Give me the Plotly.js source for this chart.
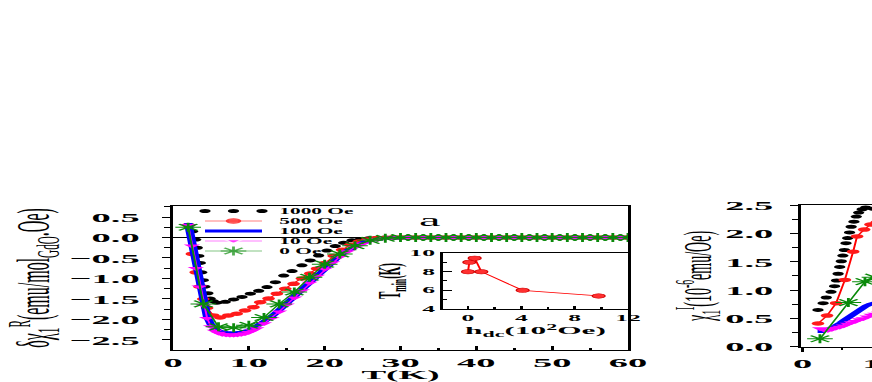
<!DOCTYPE html>
<html>
<head>
<meta charset="utf-8">
<script src="https://cdn.plot.ly/plotly-3.0.1.min.js"></script>
<style>
  html, body { margin: 0; padding: 0; background: #fff; overflow: hidden; width: 872px; height: 382px; }
  /* the original figure is stretched sideways, so the whole plot is drawn narrow and widened */
  #wrap { width: 370px; height: 382px; transform: scaleX(2.85); transform-origin: 0 0; background: #fff; }
</style>
</head>
<body>
<div id="wrap"><div id="chart" style="width:370px;height:382px;"></div></div>
<script>
// ---- panel a : delta chi_1^R vs T ----
const legendNames = ['1000 Oe', '500 Oe', '100 Oe', '10 Oe', '0 Oe'];

// shared flat part (all curves sit on zero above ~30 K)
const tFlat = [30, 31, 32, 33, 34, 35, 36, 37, 38, 39, 40, 41, 42, 43, 44, 45, 46, 47, 48, 49, 50,
               51, 52, 53, 54, 55, 56, 57, 58, 59, 60];
const vFlat = [0, 0, 0, 0, 0, 0, 0, 0, 0, 0, 0, 0, 0, 0, 0, 0, 0, 0, 0, 0, 0,
               0, 0, 0, 0, 0, 0, 0, 0, 0, 0];

const tBlackL = [2.2, 2.6, 3.0, 3.2, 3.4, 3.6, 3.8, 4.0, 4.2, 4.6, 4.9, 5.3, 5.8,
                 6.9, 8.0, 9.1, 10.2, 11.3, 12.4, 13.5, 14.6, 15.7, 17.0, 18.1, 19.2, 20.3,
                 21.4, 22.5, 23.6, 24.7, 25.8, 26.9, 28.0, 29.1];
const vBlackL = [0.3, 0.15, -0.05, -0.25, -0.45, -0.62, -0.85, -1.04, -1.2, -1.36, -1.49, -1.55, -1.59,
                 -1.57, -1.51, -1.45, -1.37, -1.3, -1.21, -1.09, -0.93, -0.82, -0.68, -0.56, -0.44, -0.32,
                 -0.21, -0.13, -0.07, -0.04, -0.02, -0.01, 0, 0];

const tRedL = [2.0, 2.5, 3.0, 3.5, 4.0, 4.5, 5.3, 6.2, 7.3, 8.4, 9.5, 10.6, 11.5, 12.6,
               13.7, 14.8, 15.9, 17.0, 18.1, 19.0, 20.1, 21.2, 22.3, 23.4, 24.5, 25.6, 26.7, 27.8, 28.9];
const vRedL = [0.3, -0.4, -0.85, -1.2, -1.5, -1.72, -1.9, -1.95, -1.9, -1.86, -1.78, -1.7, -1.58, -1.49,
               -1.37, -1.25, -1.13, -1.0, -0.88, -0.76, -0.62, -0.45, -0.3, -0.18, -0.1, -0.05, -0.02, -0.01, 0];

const tBlueL = [2, 2.5, 3, 3.5, 4, 4.5, 5, 5.5, 6, 7, 8, 9, 10, 11, 12, 13, 14, 15, 16, 17, 18,
                19, 20, 21, 22, 23, 24, 25, 26, 27, 28, 29];
const vBlueL = [0.35, -0.15, -0.65, -1.15, -1.6, -1.93, -2.12, -2.23, -2.28, -2.32, -2.33, -2.31, -2.26,
                -2.17, -2.05, -1.93, -1.77, -1.6, -1.43, -1.25, -1.07, -0.9, -0.74, -0.58, -0.44, -0.32,
                -0.21, -0.13, -0.07, -0.04, -0.02, -0.01];

const tMagL = [2, 2.5, 3, 3.5, 4, 4.5, 5, 5.5, 6, 6.5, 7, 7.5, 8, 8.5, 9, 9.5, 10, 10.5, 11,
               12, 13, 14, 15, 16, 17, 18, 19, 20, 21, 22, 23, 24, 25, 26, 27, 28, 29];
const vMagL = [0.3, -0.2, -0.75, -1.2, -1.65, -1.97, -2.17, -2.28, -2.33, -2.36, -2.37, -2.38, -2.38,
               -2.37, -2.36, -2.34, -2.31, -2.27, -2.22,
               -2.1, -1.97, -1.81, -1.64, -1.47, -1.29, -1.11, -0.94, -0.77, -0.61, -0.47, -0.34, -0.23,
               -0.15, -0.08, -0.04, -0.02, -0.01];

const tGreenL = [2, 4, 6, 8, 10, 12, 14, 16, 18, 20, 22, 24, 26, 28, 30, 32, 34, 36, 38, 40,
                 42, 44, 46, 48, 50, 52, 54, 56, 58, 60];
const vGreenL = [0.25, -1.62, -2.18, -2.2, -2.14, -1.95, -1.62, -1.33, -0.97, -0.65, -0.4, -0.2, -0.07, -0.02,
                 0, 0, 0, 0, 0, 0, 0, 0, 0, 0, 0, 0, 0, 0, 0, 0];

// inset: T_min vs h_dc (10^2 Oe)
const hInset = [0, 0.1, 0.5, 1, 4.1, 9.8];
const tminInset = [8.0, 9.0, 9.45, 8.0, 6.0, 5.4];

// ---- right panel (cut off by the frame) : chi_1 vs T ----
const tBlackR = [1.95, 2.6, 3.0, 3.6, 4.05, 4.3, 4.5, 4.7, 4.9, 5.1, 5.3, 5.5, 5.7, 5.95, 6.15,
                 6.5, 6.8, 7.1, 7.55, 8.0, 8.9, 9.6];
const vBlackR = [0.65, 0.77, 0.87, 0.97, 1.07, 1.17, 1.29, 1.41, 1.51, 1.61, 1.71, 1.83, 1.92, 2.02, 2.12,
                 2.21, 2.3, 2.37, 2.43, 2.46, 2.44, 2.41];
const tRedR = [1.95, 3.1, 4.25, 5.35, 6.4, 6.9, 7.8, 8.6, 9.4];
const vRedR = [0.41, 0.55, 0.77, 1.18, 1.68, 1.95, 2.07, 2.16, 2.2];
const tBlueR = [1.9, 2.4, 2.9, 3.3, 3.8, 4.3, 4.8, 5.2, 5.6, 6.0, 6.4, 6.8, 7.2, 7.6, 8.0, 8.5, 9.0, 9.6];
const vBlueR = [0.27, 0.27, 0.3, 0.31, 0.34, 0.37, 0.42, 0.46, 0.5, 0.54, 0.59, 0.63, 0.67, 0.69, 0.72,
                0.75, 0.77, 0.79];
const tMagR = [2.2, 2.7, 3.2, 3.7, 4.2, 4.7, 5.2, 5.7, 6.2, 6.7, 7.2, 7.7, 8.2, 8.7, 9.2, 9.7];
const vMagR = [0.32, 0.3, 0.29, 0.31, 0.33, 0.35, 0.37, 0.4, 0.43, 0.45, 0.48, 0.5, 0.53, 0.56, 0.58, 0.6];
const tGreenR = [2.2, 5.8, 7.9, 9.1];
const vGreenR = [0.14, 0.78, 1.15, 1.23];

// hand-made legend rows (x along the sample, one row per series)
const legendSampleX = [0, 0.5, 1];

const serif = '"Liberation Serif", "Times New Roman", serif';
const GREEN = '#0a8a0a';

// styles per series, same order as legendNames
const styles = [
    { mode: 'markers', marker: { color: '#000', size: 4 } },
    { mode: 'lines+markers', line: { color: '#ff0000', width: 0.7 }, marker: { color: '#ff1a1a', size: 4.5 } },
    { mode: 'lines', line: { color: '#0000ff', width: 3 } },
    { mode: 'lines+markers', line: { color: '#ff00ff', width: 0.7 }, marker: { symbol: 'triangle-down', color: '#ff00ff', size: 5 } },
    { mode: 'lines+markers', line: { color: GREEN, width: 0.7 }, marker: { symbol: 'asterisk-open', size: 7.5, line: { color: GREEN, width: 1 } } }
];

function series(x, y, xa, ya, style) {
    return Object.assign({ x: x, y: y, xaxis: xa, yaxis: ya, type: 'scatter', showlegend: false, hoverinfo: 'skip' },
        JSON.parse(JSON.stringify(style)));
}

const leftData = [[tBlackL.concat(tFlat), vBlackL.concat(vFlat)],
                  [tRedL.concat(tFlat), vRedL.concat(vFlat)],
                  [tBlueL.concat(tFlat), vBlueL.concat(vFlat)],
                  [tMagL.concat(tFlat), vMagL.concat(vFlat)],
                  [tGreenL, vGreenL]];
const rightData = [[tBlackR, vBlackR], [tRedR, vRedR], [tBlueR, vBlueR], [tMagR, vMagR], [tGreenR, vGreenR]];

const traces = [];
leftData.forEach((d, i) => traces.push(series(d[0], d[1], 'x', 'y', styles[i])));
rightData.forEach((d, i) => traces.push(series(d[0], d[1], 'x2', 'y2', styles[i])));

// inset curve
traces.push({
    x: hInset, y: tminInset, xaxis: 'x3', yaxis: 'y3', type: 'scatter', mode: 'lines+markers',
    line: { color: '#ff0000', width: 0.7 },
    marker: { color: '#ff3030', size: 4.5, line: { color: '#d00000', width: 0.5 } },
    showlegend: false, hoverinfo: 'skip'
});

// legend samples
legendNames.forEach((name, i) => {
    const s = series(legendSampleX, legendSampleX.map(() => i), 'x4', 'y4', styles[i]);
    s.cliponaxis = false;
    if (i > 0 && s.marker) s.marker.size = [0, s.marker.size, 0];
    traces.push(s);
});

const tickFont = { family: serif, size: 13.5, color: '#000', weight: 'bold' };
const insetFont = { family: serif, size: 9, color: '#000', weight: 'bold' };

const frame = { showline: true, linecolor: '#000', linewidth: 1, mirror: true, showgrid: false, zeroline: false };
const hidden = { showline: false, showgrid: false, zeroline: false, showticklabels: false, ticks: '', fixedrange: true };

const layout = {
    width: 370, height: 382,
    margin: { l: 0, r: 0, t: 0, b: 0 },
    // transparent plot areas: the legend helper subplot overlaps the main one
    paper_bgcolor: '#fff', plot_bgcolor: 'rgba(0,0,0,0)',
    showlegend: false,
    xaxis: Object.assign({}, frame, {
        domain: [0.16405, 0.59554], range: [0, 60], anchor: 'y',
        dtick: 10, tick0: 0, ticks: 'inside', ticklen: 4, tickwidth: 1, tickcolor: '#000',
        minor: { dtick: 5, ticks: 'inside', ticklen: 2, tickcolor: '#000' },
        tickfont: tickFont,
        title: { text: 'T(K)', font: { family: serif, size: 13, color: '#000', weight: 'bold' }, standoff: 6 }
    }),
    yaxis: Object.assign({}, frame, {
        domain: [0.0838, 0.4607], range: [-2.744, 0.768], anchor: 'x',
        dtick: 0.5, tick0: 0, tickformat: '.1f', ticks: 'outside', ticklen: 3, tickcolor: '#000',
        minor: { dtick: 0.25, ticks: 'outside', ticklen: 2, tickcolor: '#000' },
        ticklabelstandoff: 5,
        zeroline: true, zerolinecolor: '#000', zerolinewidth: 1,
        tickfont: tickFont,
        title: { text: 'δχ<sub>1</sub><sup>R</sup>(emu/mol<sub>GdO</sub>.Oe)', font: { family: serif, size: 16, color: '#000' }, standoff: 2 }
    }),
    xaxis2: Object.assign({}, frame, {
        domain: [0.7596, 1], range: [-0.2, 31.9], anchor: 'y2',
        dtick: 10, tick0: 0, ticks: 'outside', ticklen: 4, tickcolor: '#000',
        minor: { dtick: 5, ticks: 'outside', ticklen: 2, tickcolor: '#000' },
        tickfont: tickFont
    }),
    yaxis2: Object.assign({}, frame, {
        domain: [0.0916, 0.4634], range: [-0.005, 2.505], anchor: 'x2',
        dtick: 0.5, tick0: 0, tickformat: '.1f', ticks: 'outside', ticklen: 3, tickcolor: '#000',
        minor: { dtick: 0.25, ticks: 'outside', ticklen: 2, tickcolor: '#000' },
        ticklabelstandoff: 3,
        tickfont: tickFont,
        title: { text: 'χ<sub>1</sub><sup>I</sup>(10<sup>-6</sup>emu/Oe)', font: { family: serif, size: 14, color: '#000' }, standoff: 0 }
    }),
    xaxis3: Object.assign({}, frame, {
        domain: [0.4201, 0.59554], range: [-1.875, 12], anchor: 'y3',
        dtick: 4, tick0: 0, ticks: 'inside', ticklen: 3, tickcolor: '#000',
        minor: { dtick: 2, ticks: 'inside', ticklen: 1.5, tickcolor: '#000' },
        tickfont: insetFont,
        title: { text: 'h<sub>dc</sub>(10<sup>2</sup>Oe)', font: { family: serif, size: 11, color: '#000', weight: 'bold' }, standoff: 0 }
    }),
    yaxis3: Object.assign({}, frame, {
        domain: [0.1911, 0.3377], range: [4, 10], anchor: 'x3',
        dtick: 2, tick0: 0, ticks: 'inside', ticklen: 3, tickcolor: '#000',
        minor: { dtick: 1, ticks: 'inside', ticklen: 1.5, tickcolor: '#000' },
        tickfont: insetFont,
        title: { text: 'T<sub>min</sub>(K)', font: { family: serif, size: 11, color: '#000', weight: 'bold' }, standoff: 0 }
    }),
    // helper axis for the legend: samples sit in [0, 1], names start at 1.2
    xaxis4: Object.assign({}, hidden, { domain: [0.1944, 0.4647], range: [0, 5], anchor: 'y4' }),
    yaxis4: Object.assign({}, hidden, { domain: [0.3298, 0.4607], range: [4.5, -0.5], anchor: 'x4' }),
    annotations: legendNames.map((name, i) => ({
        text: name, xref: 'x4', yref: 'y4', x: 1.2, y: i, xanchor: 'left', yanchor: 'middle',
        showarrow: false, font: { family: serif, size: 7.5, color: '#000', weight: 'bold' }
    })).concat([{
        text: 'a', xref: 'paper', yref: 'paper', x: 0.4078, y: 0.4215, xanchor: 'center', yanchor: 'middle',
        showarrow: false, font: { family: serif, size: 17, color: '#000' }
    }])
};

Plotly.newPlot('chart', traces, layout, { staticPlot: true, displayModeBar: false });
</script>
</body>
</html>
